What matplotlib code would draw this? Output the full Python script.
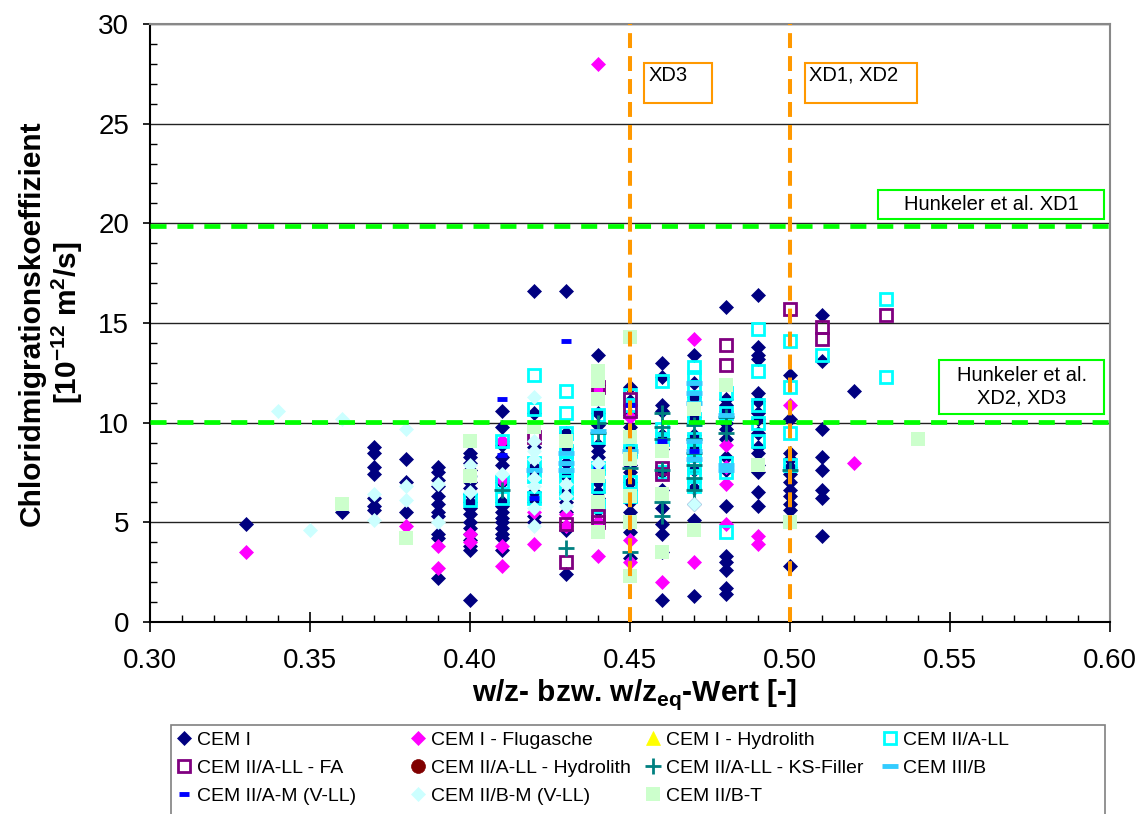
import numpy as np
import matplotlib
matplotlib.use('Agg')
import matplotlib.pyplot as plt
from matplotlib.patches import Rectangle
from matplotlib.ticker import MultipleLocator, FormatStrFormatter

plt.rcParams['font.family'] = ['Liberation Sans', 'DejaVu Sans']
plt.rcParams['mathtext.fontset'] = 'custom'
plt.rcParams['mathtext.rm'] = 'Liberation Sans'
plt.rcParams['mathtext.bf'] = 'Liberation Sans:bold'

# Messwerte je Zementart: w/z-Wert -> Chloridmigrationskoeffizienten
cem1 = {
    0.33: [4.9],
    0.36: [5.5],
    0.37: [8.8, 8.5, 7.8, 7.4, 6.2, 5.8, 5.6],
    0.38: [8.2, 7.0, 5.5],
    0.39: [7.8, 7.5, 7.1, 6.8, 6.3, 5.9, 5.5, 5.3, 4.4, 4.2, 2.2],
    0.40: [8.5, 8.3, 8.0, 7.6, 7.3, 7.0, 6.7, 6.4, 6.0, 5.7, 5.4, 5.0, 4.7, 4.4, 4.1, 3.8, 3.6, 1.1],
    0.41: [10.6, 9.8, 8.9, 8.3, 7.9, 7.0, 6.0, 5.8, 5.5, 5.2, 5.0, 4.7, 4.4, 4.2, 3.6],
    0.42: [16.6, 10.5, 8.8, 7.8, 7.5, 6.5, 6.0, 5.3, 5.0],
    0.43: [16.6, 9.5, 8.8, 8.0, 7.3, 6.5, 6.0, 5.5, 4.6, 2.4],
    0.44: [13.4, 11.9, 10.5, 9.9, 8.9, 8.6, 8.3, 8.0, 7.6, 7.0, 6.5, 6.2, 5.6, 5.0, 4.8],
    0.45: [11.8, 11.1, 10.4, 9.8, 8.8, 8.4, 7.9, 7.5, 7.0, 6.6, 6.0, 5.5, 4.5, 3.2],
    0.46: [13.0, 12.3, 10.9, 10.6, 9.4, 8.7, 7.5, 6.6, 5.7, 4.9, 4.4, 3.5, 1.1],
    0.47: [13.4, 12.0, 11.3, 10.3, 9.4, 8.8, 7.6, 6.7, 5.9, 5.1, 1.3],
    0.48: [15.8, 11.2, 10.9, 10.6, 10.0, 9.7, 9.2, 8.3, 7.6, 5.8, 3.3, 3.0, 2.6, 1.7, 1.4],
    0.49: [16.4, 13.8, 13.4, 13.2, 11.5, 11.1, 10.5, 10.2, 9.5, 8.8, 8.5, 7.9, 7.5, 6.5, 5.8],
    0.50: [12.4, 10.2, 8.5, 8.2, 7.8, 7.4, 7.0, 6.6, 6.3, 5.9, 5.6, 2.8],
    0.51: [15.4, 13.1, 9.7, 8.3, 7.6, 6.6, 6.2, 4.3],
    0.52: [11.6],
}
cem1_fa = {
    0.33: [3.5], 0.38: [4.8], 0.39: [3.8, 2.7], 0.40: [4.4, 4.0],
    0.41: [9.1, 7.1, 3.8, 2.8], 0.42: [5.5, 3.9], 0.43: [5.4, 4.8],
    0.44: [28.0, 11.6, 5.0, 3.3], 0.45: [10.3, 4.1, 3.0], 0.46: [8.9, 2.0],
    0.47: [14.2, 8.3, 3.0], 0.48: [8.9, 7.8, 6.9, 4.9], 0.49: [4.3, 3.9],
    0.50: [10.9], 0.52: [8.0],
}
cem1_hydrolith = {}
cem2_ll = {
    0.40: [6.1], 0.41: [9.1, 7.0, 6.2],
    0.42: [12.4, 10.7, 8.0, 7.3, 6.2],
    0.43: [11.6, 10.5, 9.5, 8.6, 8.0, 7.6, 7.2, 6.5],
    0.44: [10.4, 9.3, 7.7, 6.8, 5.8],
    0.45: [11.4, 10.9, 8.6, 7.0, 6.3],
    0.46: [12.1, 9.7, 9.2, 7.5],
    0.47: [12.8, 12.3, 11.8, 11.3, 10.2, 9.2, 8.7, 8.2, 7.8, 7.3, 6.8],
    0.48: [11.5, 10.5, 8.0, 7.5, 4.5],
    0.49: [14.7, 12.6, 10.9, 10.0, 9.1],
    0.50: [14.1, 11.8, 9.5, 7.9],
    0.51: [13.4], 0.53: [16.2, 12.3],
}
cem2_ll_fa = {
    0.42: [9.3], 0.43: [4.9, 3.0], 0.44: [11.8, 5.3, 5.0], 0.45: [11.2, 10.6],
    0.46: [7.7, 7.4], 0.48: [13.9, 12.9], 0.50: [15.7], 0.51: [14.8, 14.2],
    0.53: [15.4],
}
cem2_ll_hydrolith = {}
cem2_ll_ks = {
    0.41: [6.6], 0.43: [3.7], 0.44: [10.0, 9.5], 0.45: [7.7, 3.5],
    0.46: [10.5, 9.8, 9.2, 7.6, 6.0, 5.3],
    0.47: [9.9, 9.2, 8.5, 7.9, 7.2, 6.6],
    0.48: [10.3, 9.5], 0.50: [7.6],
}
cem3_b = {
    0.42: [7.6], 0.43: [8.5, 8.0, 7.6], 0.44: [9.6], 0.45: [8.6],
    0.47: [12.0, 11.5, 11.0, 9.1, 8.6, 8.2], 0.48: [10.4, 7.9, 7.6],
}
cem2_am = {
    0.41: [11.2, 8.4], 0.42: [6.2], 0.43: [14.1], 0.44: [7.8],
    0.45: [10.9], 0.46: [9.1], 0.47: [8.6],
}
cem2_bm = {
    0.34: [10.6], 0.35: [4.6], 0.36: [10.2], 0.37: [6.4, 5.1],
    0.38: [9.7, 6.8, 6.1], 0.39: [6.9, 5.0], 0.40: [7.9, 7.3, 6.5],
    0.41: [7.4], 0.42: [11.3, 9.1, 8.6, 8.2, 7.2, 6.8, 5.7, 4.8],
    0.43: [6.9, 6.3, 5.8], 0.44: [8.0], 0.45: [8.2], 0.47: [5.9],
}
cem2_bt = {
    0.36: [5.9], 0.38: [4.2], 0.40: [9.1, 7.3], 0.42: [9.8], 0.43: [9.1],
    0.44: [12.6, 12.1, 11.2, 7.3, 6.0, 4.5],
    0.45: [14.3, 9.3, 8.2, 6.3, 5.0, 2.3],
    0.46: [8.6, 6.4, 3.5], 0.47: [10.7, 4.6], 0.48: [11.9], 0.49: [7.9],
    0.50: [5.0], 0.54: [9.2],
}

# Grenzwerte
xd_limits = [0.45, 0.50]
hunkeler_limits = [10.05, 19.85]


def flatten(series):
    xs, ys = [], []
    for wz, vals in series.items():
        xs += [wz] * len(vals)
        ys += vals
    return xs, ys


fig = plt.figure(figsize=(11.46, 8.14), dpi=100)
ax = fig.add_axes([0.1309, 0.2359, 0.8377, 0.7346])

ax.set_xlim(0.30, 0.60)
ax.set_ylim(0, 30)
ax.grid(axis='y', which='major', color='#222222', lw=1.0, zorder=0)
ax.set_axisbelow(True)

series = [
    (cem1, 'CEM I', dict(marker='D', color='#000080', ms=7.5, mfc='#000080', mew=0.5)),
    (cem1_fa, 'CEM I - Flugasche', dict(marker='D', color='#ff00ff', ms=7.5, mfc='#ff00ff', mew=0.5)),
    (cem1_hydrolith, 'CEM I - Hydrolith', dict(marker='^', color='#ffff00', ms=10, mfc='#ffff00', mew=0.5)),
    (cem2_ll, 'CEM II/A-LL', dict(marker='s', color='#00ffff', ms=8, mfc='none', mew=2)),
    (cem2_ll_fa, 'CEM II/A-LL - FA', dict(marker='s', color='#800080', ms=8, mfc='none', mew=2)),
    (cem2_ll_hydrolith, 'CEM II/A-LL - Hydrolith', dict(marker='o', color='#800000', ms=10, mfc='#800000', mew=0.5)),
    (cem2_ll_ks, 'CEM II/A-LL - KS-Filler', dict(marker='+', color='#008080', ms=12, mew=2)),
    (cem3_b, 'CEM III/B', dict(marker='_', color='#33ccff', ms=12, mew=3.5)),
    (cem2_am, 'CEM II/A-M (V-LL)', dict(marker='_', color='#0000ff', ms=7, mew=3.5)),
    (cem2_bm, 'CEM II/B-M (V-LL)', dict(marker='D', color='#ccffff', ms=7.5, mfc='#ccffff', mew=0.5)),
    (cem2_bt, 'CEM II/B-T', dict(marker='s', color='#ccffcc', ms=10.5, mfc='#ccffcc', mew=0)),
]
handles = []
for i, (data, label, style) in enumerate(series):
    xs, ys = flatten(data)
    h, = ax.plot(xs, ys, ls='none', label=label, zorder=3 + i * 0.1, **style)
    handles.append(h)

# Expositionsklassen / Hunkeler-Grenzen
for xv in xd_limits:
    ax.axvline(xv, color='#ff9900', lw=2.9, ls=(0, (3.7, 2.0)), zorder=5)
for yv in hunkeler_limits:
    ax.axhline(yv, color='#00ff00', lw=3.4, ls=(0, (3.4, 2.3)), zorder=5)

# Textboxen
boxes = [
    ((0.5146, 0.8684), 0.0708, 0.0669, '#ff9900', 'XD3', (0.519, 0.930), 'left', 'top'),
    ((0.6823, 0.8684), 0.1167, 0.0669, '#ff9900', 'XD1, XD2', (0.6865, 0.930), 'left', 'top'),
    ((0.7583, 0.6739), 0.2355, 0.0485, '#00ff00', 'Hunkeler et al. XD1', (0.876, 0.699), 'center', 'center'),
    ((0.8219, 0.3478), 0.1719, 0.0903, '#00ff00', 'Hunkeler et al.\nXD2, XD3', (0.908, 0.393), 'center', 'center'),
]
for (x0, y0), w, h, ec, txt, (tx, ty), ha, va in boxes:
    ax.add_patch(Rectangle((x0, y0), w, h, transform=ax.transAxes, fc='white',
                           ec=ec, lw=1.5, zorder=6))
    ax.text(tx, ty, txt, transform=ax.transAxes, ha=ha, va=va, fontsize=14.5,
            zorder=7, linespacing=1.25)

# Achsen
ax.xaxis.set_major_locator(MultipleLocator(0.05))
ax.xaxis.set_minor_locator(MultipleLocator(0.01))
ax.xaxis.set_major_formatter(FormatStrFormatter('%.2f'))
ax.yaxis.set_major_locator(MultipleLocator(5))
ax.yaxis.set_minor_locator(MultipleLocator(1))
ax.tick_params(axis='x', which='major', direction='inout', length=14, width=1.2, labelsize=20, pad=12)
ax.tick_params(axis='y', which='major', direction='out', length=5, width=1.2, labelsize=20, pad=10)
ax.tick_params(which='minor', direction='in', length=5, width=1)
for s in ['left', 'bottom']:
    ax.spines[s].set_color('black')
    ax.spines[s].set_linewidth(1.5)
for s in ['top', 'right']:
    ax.spines[s].set_color('#888888')
    ax.spines[s].set_linewidth(1.5)

ax.set_ylabel('Chloridmigrationskoeffizient\n[10$^{\\mathbf{-12}}$ m$^{\\mathbf{2}}$/s]',
              fontsize=21.5, fontweight='bold', linespacing=1.1)
ax.yaxis.set_label_coords(-0.068, 0.5)
ax.set_xlabel('w/z- bzw. w/z$_{\\mathbf{eq}}$-Wert [-]', fontsize=21.5, fontweight='bold')
ax.xaxis.set_label_coords(0.505, -0.093)

# Legende: Rahmen + vier Spalten, zeilenweise gefuellt wie im Original
fig.add_artist(Rectangle((171 / 1146, -0.05), (1105 - 171) / 1146, 0.05 + 1 - 725 / 814,
                         transform=fig.transFigure, fill=False, ec='#808080', lw=1.2))
legend_cols = [[0, 4, 8], [1, 5, 9], [2, 6, 10], [3, 7]]
col_x = [184, 418, 653, 890]
for idx, mx in zip(legend_cols, col_x):
    fig.legend([handles[i] for i in idx], [series[i][1] for i in idx],
               loc='upper left', bbox_to_anchor=((mx - 7.8) / 1146, 1 - 731 / 814),
               fontsize=14, frameon=False, handlelength=0.8, handletextpad=0.27,
               labelspacing=0.55, borderpad=0, borderaxespad=0, numpoints=1)

fig.savefig('out.png', dpi=100)
